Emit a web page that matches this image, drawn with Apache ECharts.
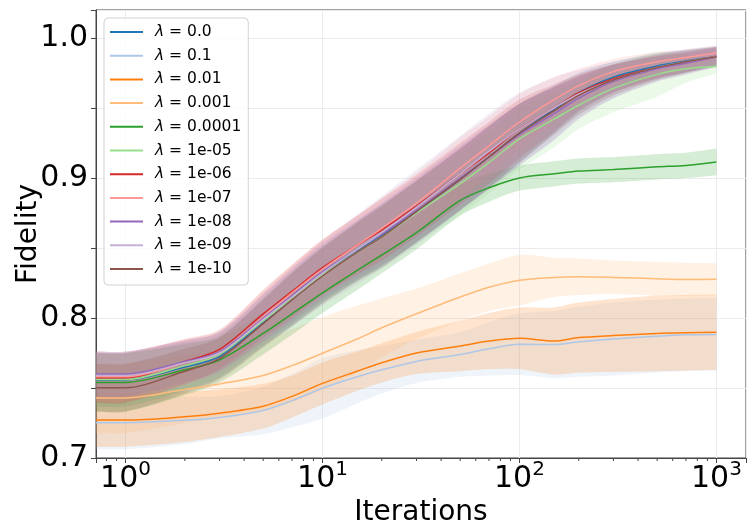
<!DOCTYPE html>
<html><head><meta charset="utf-8">
<script src="https://cdn.jsdelivr.net/npm/echarts@6/dist/echarts.min.js"></script>
<style>html,body{margin:0;padding:0;background:#fff}#c{width:749px;height:520px}</style>
</head><body><div id="c"></div>
<script>
// ---- data ----
const iterations = [0.708, 1, 2, 3, 5, 7, 10, 15, 20, 30, 50, 70, 100, 150, 200, 300, 500, 700, 1000];
const seriesNames = ['λ = 0.0', 'λ = 0.1', 'λ = 0.01', 'λ = 0.001', 'λ = 0.0001', 'λ = 1e-05', 'λ = 1e-06', 'λ = 1e-07', 'λ = 1e-08', 'λ = 1e-09', 'λ = 1e-10'];
const colors = ['#1f77b4', '#aec7e8', '#ff7f0e', '#ffbb78', '#2ca02c', '#98df8a', '#d62728', '#ff9896', '#9467bd', '#c5b0d5', '#8c564b'];

const mean_0     = [0.7557, 0.7557, 0.765, 0.7724, 0.797, 0.814, 0.831, 0.848, 0.859, 0.876, 0.899, 0.915, 0.932, 0.949, 0.961, 0.972, 0.980, 0.9835, 0.9868];
const std_0      = [0.019, 0.019, 0.017, 0.015, 0.017, 0.019, 0.020, 0.021, 0.022, 0.022, 0.022, 0.022, 0.021, 0.017, 0.014, 0.011, 0.009, 0.008, 0.007];
const mean_0_1   = [0.7252, 0.7252, 0.727, 0.729, 0.734, 0.741, 0.7498, 0.758, 0.763, 0.769, 0.774, 0.778, 0.7812, 0.781, 0.783, 0.785, 0.787, 0.788, 0.7883];
const std_0_1    = [0.019, 0.019, 0.017, 0.015, 0.017, 0.019, 0.0215, 0.019, 0.017, 0.0155, 0.016, 0.019, 0.022, 0.024, 0.025, 0.026, 0.026, 0.026, 0.026];
const mean_0_01  = [0.7271, 0.7271, 0.7295, 0.732, 0.737, 0.744, 0.7533, 0.762, 0.768, 0.775, 0.780, 0.7835, 0.7855, 0.7835, 0.786, 0.7875, 0.789, 0.7895, 0.7898];
const std_0_01   = [0.019, 0.019, 0.018, 0.017, 0.016, 0.015, 0.015, 0.014, 0.014, 0.015, 0.018, 0.020, 0.022, 0.024, 0.025, 0.026, 0.027, 0.027, 0.027];
const mean_0_001 = [0.7429, 0.7429, 0.749, 0.7529, 0.759, 0.766, 0.7748, 0.785, 0.793, 0.803, 0.815, 0.822, 0.827, 0.829, 0.8295, 0.829, 0.828, 0.8275, 0.8276];
const std_0_001  = [0.025, 0.025, 0.024, 0.024, 0.025, 0.026, 0.026, 0.024, 0.021, 0.018, 0.017, 0.017, 0.018, 0.014, 0.013, 0.012, 0.012, 0.012, 0.0115];
const mean_1e4   = [0.754, 0.754, 0.763, 0.770, 0.789, 0.803, 0.818, 0.834, 0.845, 0.861, 0.884, 0.893, 0.900, 0.903, 0.905, 0.906, 0.908, 0.909, 0.9115];
const std_1e4    = [0.021, 0.021, 0.018, 0.016, 0.015, 0.015, 0.0145, 0.014, 0.013, 0.012, 0.011, 0.010, 0.009, 0.009, 0.009, 0.009, 0.009, 0.009, 0.0095];
const mean_1e5   = [0.756, 0.756, 0.766, 0.774, 0.798, 0.814, 0.831, 0.847, 0.858, 0.875, 0.896, 0.911, 0.928, 0.942, 0.952, 0.964, 0.974, 0.978, 0.9798];
const std_1e5    = [0.019, 0.019, 0.017, 0.015, 0.017, 0.019, 0.020, 0.021, 0.022, 0.022, 0.022, 0.022, 0.022, 0.020, 0.017, 0.017, 0.016, 0.010, 0.005];
const mean_1e6   = [0.7574, 0.7574, 0.769, 0.7776, 0.803, 0.819, 0.836, 0.852, 0.863, 0.880, 0.903, 0.918, 0.935, 0.950, 0.961, 0.971, 0.979, 0.9825, 0.9869];
const std_1e6    = [0.018, 0.018, 0.016, 0.014, 0.017, 0.019, 0.020, 0.021, 0.022, 0.022, 0.022, 0.022, 0.021, 0.017, 0.013, 0.010, 0.008, 0.007, 0.006];
const mean_1e7   = [0.758, 0.758, 0.768, 0.776, 0.801, 0.818, 0.835, 0.852, 0.864, 0.882, 0.907, 0.923, 0.940, 0.956, 0.966, 0.976, 0.983, 0.986, 0.9893];
const std_1e7    = [0.018, 0.018, 0.016, 0.014, 0.017, 0.019, 0.020, 0.021, 0.022, 0.022, 0.022, 0.021, 0.020, 0.016, 0.012, 0.009, 0.007, 0.006, 0.005];
const mean_1e8   = [0.760, 0.760, 0.769, 0.776, 0.800, 0.816, 0.833, 0.849, 0.860, 0.877, 0.900, 0.915, 0.931, 0.946, 0.957, 0.969, 0.978, 0.982, 0.9865];
const std_1e8    = [0.016, 0.016, 0.015, 0.014, 0.017, 0.019, 0.020, 0.021, 0.022, 0.023, 0.023, 0.023, 0.022, 0.019, 0.015, 0.012, 0.009, 0.008, 0.007];
const mean_1e9   = [0.759, 0.759, 0.768, 0.775, 0.799, 0.815, 0.832, 0.849, 0.861, 0.879, 0.903, 0.919, 0.935, 0.950, 0.960, 0.970, 0.979, 0.983, 0.9868];
const std_1e9    = [0.017, 0.017, 0.016, 0.015, 0.018, 0.021, 0.023, 0.025, 0.026, 0.027, 0.027, 0.027, 0.026, 0.022, 0.017, 0.013, 0.010, 0.009, 0.008];
const mean_1e10  = [0.7502, 0.7502, 0.762, 0.771, 0.796, 0.813, 0.830, 0.847, 0.858, 0.876, 0.899, 0.915, 0.932, 0.948, 0.959, 0.970, 0.979, 0.983, 0.9866];
const std_1e10   = [0.017, 0.017, 0.016, 0.015, 0.017, 0.019, 0.020, 0.021, 0.022, 0.022, 0.022, 0.022, 0.021, 0.017, 0.014, 0.011, 0.009, 0.008, 0.007];

const xMinorTicks = [0.8, 0.9, 2, 3, 4, 5, 6, 7, 8, 9, 20, 30, 40, 50, 60, 70, 80, 90, 200, 300, 400, 500, 600, 700, 800, 900];
// ---------------------------------------

const means = [mean_0, mean_0_1, mean_0_01, mean_0_001, mean_1e4, mean_1e5, mean_1e6, mean_1e7, mean_1e8, mean_1e9, mean_1e10];
const stds  = [std_0, std_0_1, std_0_01, std_0_001, std_1e4, std_1e5, std_1e6, std_1e7, std_1e8, std_1e9, std_1e10];

const FONT = 'DejaVu Sans';
const SMOOTH = 0.3;
const chart = echarts.init(document.getElementById('c'), null, {renderer: 'canvas'});

const series = [];
// bands first (drawn underneath every line, like matplotlib's fill_between collections)
seriesNames.forEach((name, k) => {
  series.push({
    type: 'custom', name: name + ' band',
    data: iterations.map((x, i) => [x, means[k][i] - stds[k][i], means[k][i] + stds[k][i]]),
    encode: {x: 0, y: [1, 2]},
    z: 2, animation: false, silent: true,
    renderItem: function (params, api) {
      if (params.dataIndex !== 0) return null;
      const up = [], lo = [];
      for (let i = 0; i < iterations.length; i++) {
        up.push(api.coord([iterations[i], means[k][i] + stds[k][i]]));
        lo.push(api.coord([iterations[i], means[k][i] - stds[k][i]]));
      }
      lo.reverse();
      const pts = [up[0]].concat(up, [up[up.length - 1]], [lo[0]], lo, [lo[lo.length - 1]]);
      return {type: 'polygon', shape: {points: pts, smooth: SMOOTH},
              style: {fill: colors[k], opacity: 0.2}};
    }
  });
});
seriesNames.forEach((name, k) => {
  series.push({
    type: 'line', name: name, color: colors[k],
    data: iterations.map((x, i) => [x, means[k][i]]),
    showSymbol: false, symbol: 'none', smooth: SMOOTH,
    lineStyle: {width: 1.5, color: colors[k]},
    z: 3, animation: false, silent: true
  });
});
series.push({
  type: 'custom', name: 'minor ticks', silent: true, animation: false,
  data: xMinorTicks.map(v => [v, 0.7]),
  encode: {x: 0, y: 1},
  renderItem: function (params, api) {
    const p = api.coord([api.value(0), 0.7]);
    return {type: 'line', shape: {x1: p[0], y1: p[1], x2: p[0], y2: p[1] + 3},
            style: {stroke: '#444', lineWidth: 1}};
  }
});

chart.setOption({
  animation: false,
  backgroundColor: '#fff',
  grid: {left: 96, right: 3, top: 10, bottom: 62, show: true, borderColor: '#444', borderWidth: 1,
         containLabel: false, outerBoundsMode: 'none'},
  legend: {
    z: 100,
    data: seriesNames, orient: 'vertical', left: 104, top: 18,
    icon: 'rect', itemWidth: 33, itemHeight: 2, itemGap: 5.7,
    padding: [5, 7, 7, 6],
    backgroundColor: 'rgba(255,255,255,0.8)', borderColor: '#d3d3d3', borderWidth: 1, borderRadius: 4,
    formatter: name => '{i|λ}' + name.slice(1),
    textStyle: {
      fontFamily: FONT, fontSize: 15.5, color: '#000', lineHeight: 18, padding: [0, 0, 0, 7],
      rich: {i: {fontFamily: FONT, fontSize: 15.5, fontStyle: 'italic', color: '#000', lineHeight: 18}}
    }
  },
  xAxis: {
    type: 'log', logBase: 10, min: 0.708, max: 1413,
    name: 'Iterations', nameLocation: 'middle', nameGap: 33,
    nameTextStyle: {fontFamily: FONT, fontSize: 28, color: '#000'},
    axisLine: {show: true, lineStyle: {color: '#444'}},
    axisTick: {show: true, length: 5, inside: false, lineStyle: {color: '#444'}},
    splitLine: {show: true, lineStyle: {color: '#ebebeb', width: 1}},
    minorTick: {show: false}, minorSplitLine: {show: false},
    axisLabel: {
      margin: 2, interval: 0,
      formatter: function (v) {
        const l = Math.log10(v), e = Math.round(l);
        if (Math.abs(l - e) > 1e-6) return '';
        return '{b|10}{s|' + e + '}';
      },
      rich: {
        b: {fontFamily: FONT, fontSize: 30, color: '#000', lineHeight: 34, verticalAlign: 'bottom'},
        s: {fontFamily: FONT, fontSize: 20, color: '#000', lineHeight: 18, verticalAlign: 'top'}
      }
    }
  },
  yAxis: {
    type: 'value', min: 0.7, max: 1.02, interval: 0.05,
    name: 'Fidelity', nameLocation: 'middle', nameGap: 53, nameMoveOverlap: false,
    nameTextStyle: {fontFamily: FONT, fontSize: 28, color: '#000'},
    axisLine: {show: true, lineStyle: {color: '#444'}},
    axisTick: {show: true, length: 5, inside: false, lineStyle: {color: '#444'}},
    splitLine: {show: true, lineStyle: {color: '#ebebeb', width: 1}},
    axisLabel: {
      margin: 8, fontFamily: FONT, fontSize: 30, color: '#000',
      formatter: function (v) {
        const t = v * 10;
        if (Math.abs(t - Math.round(t)) > 1e-6 || v > 1.0001) return '';
        return v.toFixed(1);
      }
    }
  },
  series: series
});
</script></body></html>
